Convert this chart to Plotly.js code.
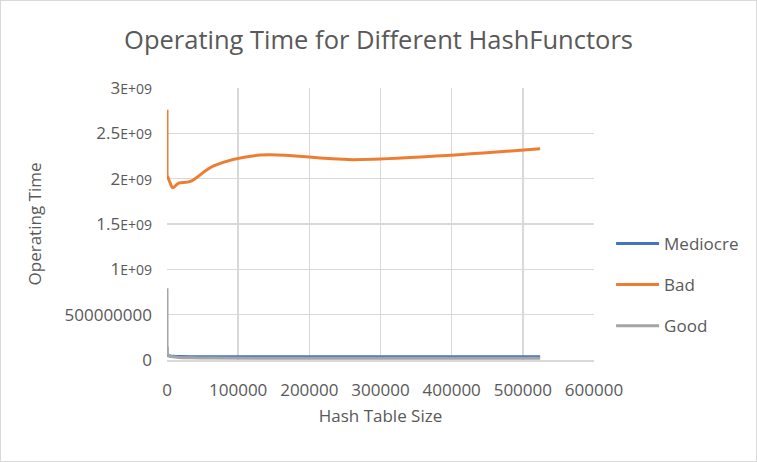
<!DOCTYPE html>
<html>
<head>
<meta charset="utf-8">
<script src="https://cdn.plot.ly/plotly-3.0.1.min.js"></script>
<style>
html,body{margin:0;padding:0;background:#fff;}
#chart{width:755px;height:460px;border:1px solid #d9d9d9;}
</style>
</head>
<body>
<div id="chart"></div>
<script>
var tableSizes = [1,2,4,8,16,32,64,128,256,512,1024,2048,4096,8192,16384,32768,65536,131072,262144,524288];
var mediocre = [1.5e8,1.2e8,1.0e8,9.0e7,8.0e7,7.2e7,6.6e7,6.2e7,5.8e7,5.5e7,5.2e7,4.8e7,4.4e7,4.0e7,3.8e7,3.6e7,3.5e7,3.5e7,3.5e7,3.5e7];
var bad = [2.76e9,2.45e9,2.3e9,2.2e9,2.12e9,2.08e9,2.05e9,2.04e9,2.03e9,2.02e9,2.02e9,2.0e9,1.96e9,1.90e9,1.95e9,1.97e9,2.14e9,2.26e9,2.21e9,2.33e9];
var good = [7.9e8,4.5e8,2.8e8,1.9e8,1.4e8,1.1e8,9.0e7,8.0e7,7.0e7,6.5e7,6.0e7,5.5e7,4.5e7,3.5e7,2.8e7,2.4e7,2.2e7,2.0e7,2.0e7,2.0e7];
var seriesNames = ["Mediocre","Bad","Good"];
var seriesColors = ["#4472C4","#ED7D31","#A5A5A5"];
var xTickVals = [0,100000,200000,300000,400000,500000,600000];
var yTickVals = [0,5e8,1e9,1.5e9,2e9,2.5e9,3e9];
var yTickText = ["0","500000000","1<span style='font-size:14px'>E+09</span>","1.5<span style='font-size:14px'>E+09</span>","2<span style='font-size:14px'>E+09</span>","2.5<span style='font-size:14px'>E+09</span>","3<span style='font-size:14px'>E+09</span>"];

var seriesData = [mediocre, bad, good];
var traces = seriesData.map(function(vals, i){
  return {
    x: tableSizes, y: vals, name: seriesNames[i], type: 'scatter', mode: 'lines',
    line: {color: seriesColors[i], width: 3, shape: 'spline', smoothing: 1},
    legendgroup: 'g' + i
  };
});

var font = "'Open Sans', sans-serif";
var layout = {
  width: 755, height: 460,
  paper_bgcolor: '#fff', plot_bgcolor: '#fff',
  margin: {l: 166, r: 158, t: 87, b: 101},
  font: {family: font, color: '#595959', size: 17},
  title: {text: 'Operating Time for Different HashFunctors', font: {family: font, size: 25.5, color: '#595959'}, x: 0.5, xanchor: 'center', y: 0.915, yanchor: 'middle'},
  xaxis: {
    range: [0, 600000], tickvals: xTickVals, ticktext: xTickVals.map(String),
    showgrid: true, gridcolor: '#d9d9d9', gridwidth: 1.5, zeroline: false,
    showline: true, linecolor: '#d9d9d9', linewidth: 1.5,
    ticks: '', ticklabelstandoff: 14,
    title: {text: 'Hash Table Size', font: {family: font, size: 17, color: '#595959'}, standoff: 10}
  },
  yaxis: {
    range: [0, 3e9], tickvals: yTickVals, ticktext: yTickText,
    showgrid: true, gridcolor: '#d9d9d9', gridwidth: 1.5, zeroline: false,
    showline: false, ticks: '', ticklabelstandoff: 14,
    title: {text: 'Operating Time', font: {family: font, size: 17, color: '#595959'}, standoff: 18}
  },
  showlegend: true,
  legend: {x: 1.04, y: 0.276, xanchor: 'left', yanchor: 'middle', traceorder: 'grouped', tracegroupgap: 16, itemwidth: 43, font: {family: font, size: 17, color: '#595959'}, bgcolor: 'rgba(0,0,0,0)'}
};

Plotly.newPlot('chart', traces, layout, {displayModeBar: false, staticPlot: true});
</script>
</body>
</html>
